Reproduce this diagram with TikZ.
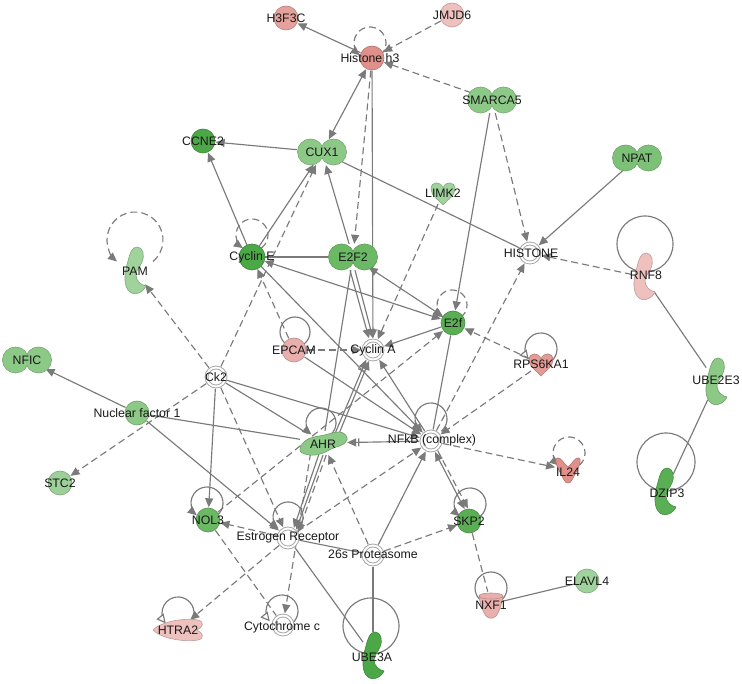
\documentclass[tikz,border=0pt]{standalone}
\usepackage{fontspec}
\setmainfont{Liberation Sans}
\usetikzlibrary{arrows.meta,shapes.geometric}
\definecolor{edgec}{HTML}{7A7A7A}
\definecolor{gA}{HTML}{4CA847}
\definecolor{gB}{HTML}{5AAF54}
\definecolor{gC}{HTML}{6BB865}
\definecolor{gD}{HTML}{7DC077}
\definecolor{gE}{HTML}{8CC886}
\definecolor{gF}{HTML}{A0D29B}
\definecolor{rA}{HTML}{E0908A}
\definecolor{rB}{HTML}{E8AFAC}
\definecolor{rC}{HTML}{EEC1BE}
\newcommand\gc[3]{\filldraw[fill=#3,draw=#3!80!black,line width=.6pt] (#1,#2) circle[radius=12pt];}
\newcommand\db[3]{\filldraw[fill=#3,draw=#3!80!black,line width=.6pt] (#1-11.5,#2) circle[radius=13pt] (#1+11.5,#2) circle[radius=13pt];
  \fill[#3] (#1-11.5,#2) circle[radius=12.6pt] (#1+11.5,#2) circle[radius=12.6pt];}
\newcommand\dc[2]{\filldraw[fill=white,draw=black!35,line width=.8pt] (#1,#2) circle[radius=11pt];
  \draw[black!35,line width=.8pt] (#1,#2) circle[radius=8pt];}
\newcommand\enz[3]{\filldraw[fill=#3,draw=#3!80!black,line width=.6pt,shift={(#1,#2)}]
  (2,-24) .. controls (8,-24) and (10,-16) .. (7,-9)
  .. controls (5,-4) and (1,-1) .. (1,4)
  .. controls (1,10) and (6,14) .. (11,15)
  .. controls (8,22) and (-2,26) .. (-7,19)
  .. controls (-12,12) and (-10,0) .. (-7,-10)
  .. controls (-5,-18) and (-3,-24) .. (2,-24) -- cycle;}
\newcommand\kin[3]{\filldraw[fill=#3,draw=#3!80!black,line width=.6pt,shift={(#1,#2)}]
  (0,-5) .. controls (-2,-12) and (-12,-12) .. (-12,-4) .. controls (-12,3) and (-4,7) .. (0,12)
  .. controls (4,7) and (12,3) .. (12,-4) .. controls (12,-12) and (2,-12) .. (0,-5) -- cycle;}
\newcommand\cyt[3]{\filldraw[fill=#3,draw=#3!80!black,line width=.6pt,shift={(#1,#2)}]
  (-11,-12) .. controls (-15,-9) and (-8,2) .. (-4,10) .. controls (-2,14) and (2,14) .. (4,10)
  .. controls (8,2) and (15,-9) .. (11,-12) .. controls (8,-14) and (4,-6) .. (0,-3)
  .. controls (-4,-6) and (-8,-14) .. (-11,-12) -- cycle;}
\newcommand\trp[3]{\filldraw[fill=#3,draw=#3!80!black,line width=.6pt,shift={(#1,#2)}]
  (-12,-8) .. controls (-12,-12) and (12,-12) .. (12,-8) .. controls (11,0) and (8,8) .. (5,12)
  .. controls (2,15) and (-2,15) .. (-5,12) .. controls (-8,8) and (-11,0) .. (-12,-8) -- cycle;
  \draw[#3!80!black,line width=.6pt,shift={(#1,#2)}] (-12,-8) .. controls (-12,-4) and (12,-4) .. (12,-8);}
\newcommand\pep[3]{\filldraw[fill=#3,draw=#3!80!black,line width=.6pt,shift={(#1,#2)}]
  (-25,0) .. controls (-15,-10) and (10,-12) .. (20,-10) .. controls (27,-8) and (25,-3) .. (19,0)
  .. controls (25,3) and (27,8) .. (20,10) .. controls (10,12) and (-15,10) .. (-25,0) -- cycle;}
\newcommand\nrc[3]{\filldraw[fill=#3,draw=#3!80!black,line width=.6pt,shift={(#1,#2)}]
  (-23,6) .. controls (-22,-2) and (-12,-6) .. (-4,-7) .. controls (4,-8) and (10,-11) .. (16,-11)
  .. controls (22,-11) and (25,-6) .. (24,-3) .. controls (22,3) and (14,3) .. (8,6)
  .. controls (2,10) and (-6,13) .. (-14,12) .. controls (-20,11) and (-24,9) .. (-23,6) -- cycle;}
\newcommand\sloop[7][]{\draw[#1] ([shift={(#3,#4)}]#2.center) ++(#6:#5) arc[start angle=#6,end angle=#7,radius=#5];}
\newcommand\lb[4]{\node[lbl] (#1) at (#2,#3) {#4};}
\begin{document}
\begin{tikzpicture}[x=1pt,y=-1pt,
  >={Triangle[length=9pt,width=8pt]},
  e/.style={draw=edgec,line width=1.15pt},
  ea/.style={e,->},
  d/.style={e,dash pattern=on 7pt off 4pt},
  da/.style={d,->},
  ot/.style={-{Triangle[open,length=9pt,width=9pt,fill=white]}},
  ba/.style={-{Bar[width=8pt,sep=2pt]Triangle[length=9pt,width=8pt]}},
  nd/.style={circle,inner sep=0pt,minimum size=#1},
  nde/.style 2 args={ellipse,inner sep=0pt,minimum width=#1,minimum height=#2},
  lbl/.style={font=\fontsize{12.3}{14}\selectfont,text=black!90,inner sep=0pt}]
\useasboundingbox (0,0) rectangle (742,684);
% ---- anchor nodes ----
\node[nd=25pt] (H3F3C) at (286,18) {};
\node[nd=25pt] (JMJD6) at (452,15) {};
\node[nd=25pt] (HisH3) at (372,58) {};
\node[nde={50pt}{26pt}] (SMARCA5) at (492,100) {};
\node[nd=25pt] (CCNE2) at (203,141) {};
\node[nde={50pt}{26pt}] (CUX1) at (322,152) {};
\node[nde={50pt}{26pt}] (NPAT) at (637,158) {};
\node[nd=24pt] (LIMK2) at (443,193) {};
\node[nde={24pt}{48pt}] (PAM) at (135,271) {};
\node[nd=26pt] (CycE) at (252,257) {};
\node[nde={50pt}{26pt}] (E2F2) at (353,257) {};
\node[nd=23pt] (HISTONE) at (530,253) {};
\node[nde={24pt}{48pt}] (RNF8) at (644,277) {};
\node[nd=25pt] (E2f) at (453,323) {};
\node[nd=25pt] (EPCAM) at (294,350) {};
\node[nd=23pt] (CycA) at (373,350) {};
\node[nd=24pt] (RPS6KA1) at (541,364) {};
\node[nde={50pt}{26pt}] (NFIC) at (27,360) {};
\node[nd=23pt] (Ck2) at (216,377) {};
\node[nde={24pt}{48pt}] (UBE2E3) at (716,382) {};
\node[nd=25pt] (NF1) at (137,413) {};
\node[nde={48pt}{24pt}] (AHR) at (323,443) {};
\node[nd=23pt] (NFkB) at (431,441) {};
\node[nd=26pt] (IL24) at (568,470) {};
\node[nde={24pt}{48pt}] (DZIP3) at (665,492) {};
\node[nd=25pt] (STC2) at (60,483) {};
\node[nd=25pt] (NOL3) at (208,520) {};
\node[nd=23pt] (ER) at (288,538) {};
\node[nd=25pt] (SKP2) at (469,521) {};
\node[nd=23pt] (P26s) at (373,555) {};
\node[nd=25pt] (ELAVL4) at (587,581) {};
\node[nd=25pt] (NXF1) at (491,604) {};
\node[nde={50pt}{23pt}] (HTRA2) at (178,630) {};
\node[nd=23pt] (CytC) at (283,625) {};
\node[nde={24pt}{48pt}] (UBE3A) at (373,656) {};
% ---- self loops ----
\sloop[d,->]{HisH3}{-2}{-15}{16}{50}{-230}
\sloop[d,->]{CycE}{0}{-22}{16}{55}{-235}
\sloop[d,->]{E2f}{-1}{-18}{15}{55}{-235}
\sloop[d,->]{PAM}{0}{-31}{28}{50}{-230}
\sloop[e]{EPCAM}{1}{-18}{15}{0}{360}
\sloop[ea]{NOL3}{-1}{-17}{16}{50}{-230}
\sloop[ea]{ER}{0}{-21}{15}{50}{-230}
\sloop[ea]{AHR}{-2}{-20}{15}{50}{-230}
\sloop[ea]{NFkB}{0}{-22}{16}{50}{-230}
\sloop[ea]{SKP2}{1}{-17}{16}{50}{-230}
\sloop[da]{IL24}{1}{-17}{16}{50}{-230}
\sloop[e,ot]{RPS6KA1}{0}{-15}{16}{60}{-220}
\sloop[e,ot]{HTRA2}{0}{-17}{16}{60}{-220}
\sloop[e,ot]{CytC}{-1}{-14}{16}{60}{-220}
\sloop[e]{NXF1}{0}{-16}{16}{0}{360}
\sloop[e]{RNF8}{1}{-33}{28}{0}{360}
\sloop[e]{DZIP3}{1}{-30}{29}{0}{360}
\sloop[e]{UBE3A}{-2}{-30}{28}{0}{360}
% ---- edges ----
\draw[ea] (HisH3) -- (H3F3C);
\draw[da] (JMJD6) -- (HisH3);
\draw[da] (SMARCA5) -- (HisH3);
\draw[e,<->] (HisH3) -- (CUX1);
\draw[ea] (HisH3) -- (CycA);
\draw[da] (HisH3) -- (E2F2);
\draw[ea] (CUX1) -- (CCNE2);
\draw[e] (CUX1) -- (HISTONE);
\draw[da] (SMARCA5) -- (HISTONE);
\draw[ea] (SMARCA5) -- (E2f);
\draw[ea] (NPAT) -- (HISTONE);
\draw[da] (RNF8) -- (HISTONE);
\draw[e] (RNF8) -- (UBE2E3);
\draw[e] (UBE2E3) -- (DZIP3);
\draw[ea] (CycE) -- (CCNE2);
\draw[ea] (CycE) -- (CUX1);
\draw[da] (Ck2) -- (CUX1);
\draw[ea] (E2F2) -- (CUX1);
\draw[e] (E2F2) -- (CycE);
\draw[e,<->] (CycE) -- (E2f);
\draw[e,<->] (E2F2) -- (E2f);
\draw[ea] ([xshift=-3pt]E2F2.south) -- ([xshift=-4pt]CycA.north);
\draw[ea] ([xshift=2pt]E2F2.south) -- ([xshift=0pt]CycA.north);
\draw[e] (E2F2) -- (AHR);
\draw[da] (LIMK2) -- (CycA);
\draw[ea] (E2f) -- (CycA);
\draw[da] (EPCAM) -- (CycA);
\draw[da] (EPCAM) -- (CycE);
\draw[ea] (EPCAM) -- (NFkB);
\draw[ea] (NFkB) -- (CycA);
\draw[e,ba] (AHR.40) -- (CycA.235);
\draw[ea] (AHR.30) -- (CycA.250);
\draw[e,ba] (NFkB) -- (AHR);
\draw[ea] (NF1) -- (NFIC);
\draw[e] (NF1) -- (AHR);
\draw[ea] (NF1) -- (ER);
\draw[da] (Ck2) -- (STC2);
\draw[da] (Ck2) -- (PAM);
\draw[ea] (Ck2) -- (NOL3);
\draw[e] (Ck2) -- (AHR);
\draw[ea] (Ck2) -- (NFkB);
\draw[da] (Ck2) -- (ER);
\draw[da] (ER) -- (NOL3);
\draw[d] (NOL3) -- (CytC);
\draw[da] (AHR.220) -- (CytC);
\draw[da] (ER) -- (HTRA2);
\draw[e] (ER) -- (UBE3A);
\draw[e] (ER) -- (P26s);
\draw[da] (ER) -- (NFkB);
\draw[ea] (AHR.250) -- (ER.60);
\draw[ea] (AHR.270) -- (ER.45);
\draw[da] (AHR.285) -- (ER.30);
\draw[da] (NOL3) -- (E2f);
\draw[ea] (P26s) -- (NFkB);
\draw[da] (P26s) -- (SKP2);
\draw[da] (P26s) -- (AHR);
\draw[e] (P26s) -- (UBE3A);
\draw[e,<->] (NFkB.290) -- (SKP2.110);
\draw[da] (NFkB.305) -- (SKP2.95);
\draw[d] (SKP2) -- (NXF1);
\draw[e] (NXF1) -- (ELAVL4);
\draw[da] (NFkB) -- (IL24);
\draw[da] (RPS6KA1) -- (NFkB);
\draw[da] (RPS6KA1) -- (E2f);
\draw[e] (E2f) -- (NFkB);
\draw[da] (NFkB) -- (HISTONE);
\draw[ea] (CycE) -- (NFkB);
% ---- shapes ----
\gc{286}{18}{rA!85!white}
\gc{452}{15}{rC}
\gc{372}{58}{rA}
\db{492}{100}{gE}
\gc{203}{141}{gA}
\db{322}{152}{gE}
\db{637}{158}{gD}
\kin{443}{193}{gF}
\enz{135}{271}{gF}
\filldraw[fill=gA,draw=gA!80!black,line width=.6pt] (252,257) circle[radius=13pt];
\db{353}{257}{gC}
\dc{530}{253}
\enz{644}{277}{rC}
\gc{453}{323}{gB}
\gc{294}{350}{rB}
\dc{373}{350}
\kin{541}{364}{rA!90!white}
\db{27}{360}{gE}
\dc{216}{377}
\enz{716}{382}{gE}
\gc{137}{413}{gE}
\nrc{323}{443}{gE}
\dc{431}{441}
\cyt{568}{470}{rA}
\enz{665}{492}{gB}
\gc{60}{483}{gE!85!white}
\gc{208}{520}{gC}
\dc{288}{538}
\gc{469}{521}{gB}
\dc{373}{555}
\gc{587}{581}{gF}
\trp{491}{604}{rB}
\pep{178}{630}{rC}
\dc{283}{625}
\enz{373}{656}{gA}
% ---- labels ----
\lb{lH3F3C}{286}{18}{H3F3C}
\lb{lJMJD6}{452}{15}{JMJD6}
\lb{lHisH3}{370}{58}{Histone h3}
\lb{lSMARCA5}{492}{100}{SMARCA5}
\lb{lCCNE2}{203}{141}{CCNE2}
\lb{lCUX1}{322}{152}{CUX1}
\lb{lNPAT}{637}{158}{NPAT}
\lb{lLIMK2}{443}{193}{LIMK2}
\lb{lPAM}{135}{271}{PAM}
\lb{lCycE}{252}{257}{Cyclin E}
\lb{lE2F2}{353}{257}{E2F2}
\lb{lHISTONE}{531}{253}{HISTONE}
\lb{lRNF8}{646}{275}{RNF8}
\lb{lE2f}{453}{323}{E2f}
\lb{lEPCAM}{294}{350}{EPCAM}
\lb{lCycA}{373}{350}{Cyclin A}
\lb{lRPS6KA1}{541}{364}{RPS6KA1}
\lb{lNFIC}{27}{360}{NFIC}
\lb{lCk2}{216}{377}{Ck2}
\lb{lUBE2E3}{716}{380}{UBE2E3}
\lb{lNF1}{137}{413}{Nuclear factor 1}
\lb{lAHR}{323}{444}{AHR}
\lb{lNFkB}{432}{440}{NFkB (complex)}
\lb{lIL24}{568}{472}{IL24}
\lb{lDZIP3}{667}{493}{DZIP3}
\lb{lSTC2}{60}{483}{STC2}
\lb{lNOL3}{208}{520}{NOL3}
\lb{lER}{288}{538}{Estrogen Receptor}
\lb{lSKP2}{469}{521}{SKP2}
\lb{lP26s}{373}{554}{26s Proteasome}
\lb{lELAVL4}{587}{581}{ELAVL4}
\lb{lNXF1}{491}{605}{NXF1}
\lb{lHTRA2}{178}{630}{HTRA2}
\lb{lCytC}{282}{627}{Cytochrome c}
\lb{lUBE3A}{372}{657}{UBE3A}
\end{tikzpicture}
\end{document}
